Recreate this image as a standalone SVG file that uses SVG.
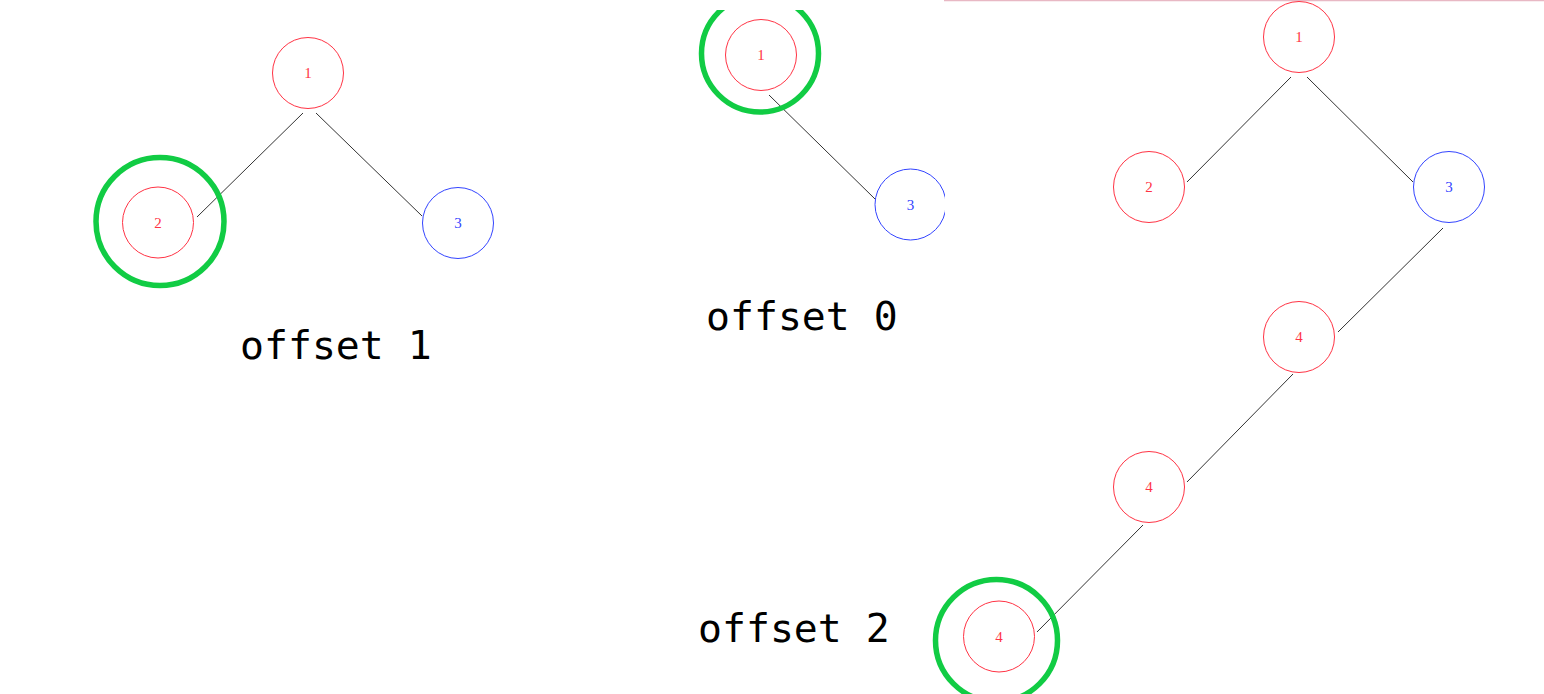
<svg xmlns="http://www.w3.org/2000/svg" width="1544" height="694" viewBox="0 0 1544 694">
<style>
.r{fill:none;stroke:#ff3344;stroke-width:1}
.b{fill:none;stroke:#3344ff;stroke-width:1}
.g{fill:none;stroke:#11cc44;stroke-width:5.5}
.e{stroke:#333;stroke-width:1}
.tr{font-family:"Liberation Serif",serif;font-size:15px;fill:#ff3344;text-anchor:middle}
.tb{font-family:"Liberation Serif",serif;font-size:15px;fill:#3344ff;text-anchor:middle}
.lbl{font-family:"DejaVu Sans Mono",monospace;font-size:39.8px;fill:#000}
</style>
<defs>
<clipPath id="mid"><rect x="600" y="10" width="345" height="400"/></clipPath>
</defs>
<rect width="1544" height="694" fill="#fff"/>
<line x1="944" y1="0.5" x2="1544" y2="0.5" stroke="#e8b8c4" stroke-width="1.5"/>
<g id="connectors">
<line class="e" x1="303" y1="113" x2="197" y2="217"/>
<line class="e" x1="316" y1="113" x2="422" y2="216"/>
<line class="e" x1="769" y1="95" x2="875" y2="199" clip-path="url(#mid)"/>
<line class="e" x1="1291" y1="77" x2="1187" y2="182"/>
<line class="e" x1="1307" y1="77" x2="1413" y2="182"/>
<line class="e" x1="1443" y1="228" x2="1338" y2="332"/>
<line class="e" x1="1293" y1="374" x2="1187" y2="482"/>
<line class="e" x1="1143" y1="525" x2="1037" y2="632"/>
</g>
<g id="left-n1"><circle class="r" cx="308" cy="73" r="35.5"/><text class="tr" x="308" y="78">1</text></g>
<g id="left-n2"><circle class="r" cx="158" cy="222.5" r="35.5"/><text class="tr" x="158" y="228">2</text><circle class="g" cx="160" cy="221.5" r="64" stroke-width="6"/></g>
<g id="left-n3"><circle class="b" cx="458" cy="223" r="35.5"/><text class="tb" x="458" y="228">3</text></g>
<g id="label-offset1"><text class="lbl" x="240" y="359">offset 1</text></g>
<g id="mid-tree" clip-path="url(#mid)">
<g id="mid-n1"><circle class="r" cx="761" cy="55" r="35.5"/><text class="tr" x="761" y="60">1</text><circle class="g" cx="760" cy="53.5" r="58.5"/></g>
<g id="mid-n3"><circle class="b" cx="910.5" cy="204.5" r="35.5"/><text class="tb" x="910.5" y="210">3</text></g>
</g>
<g id="label-offset0"><text class="lbl" x="706" y="330">offset 0</text></g>
<g id="r-n1"><circle class="r" cx="1299" cy="37" r="35.5"/><text class="tr" x="1299" y="42">1</text></g>
<g id="r-n2"><circle class="r" cx="1149" cy="187" r="35.5"/><text class="tr" x="1149" y="192">2</text></g>
<g id="r-n3"><circle class="b" cx="1449" cy="187" r="35.5"/><text class="tb" x="1449" y="192">3</text></g>
<g id="r-n4a"><circle class="r" cx="1299" cy="337" r="35.5"/><text class="tr" x="1299" y="342">4</text></g>
<g id="r-n4b"><circle class="r" cx="1149" cy="487" r="35.5"/><text class="tr" x="1149" y="492">4</text></g>
<g id="r-n4c"><circle class="r" cx="999" cy="636.5" r="35.5"/><text class="tr" x="999" y="642">4</text><circle class="g" cx="996.5" cy="640.5" r="61"/></g>
<g id="label-offset2"><text class="lbl" x="698" y="642">offset 2</text></g>
</svg>
